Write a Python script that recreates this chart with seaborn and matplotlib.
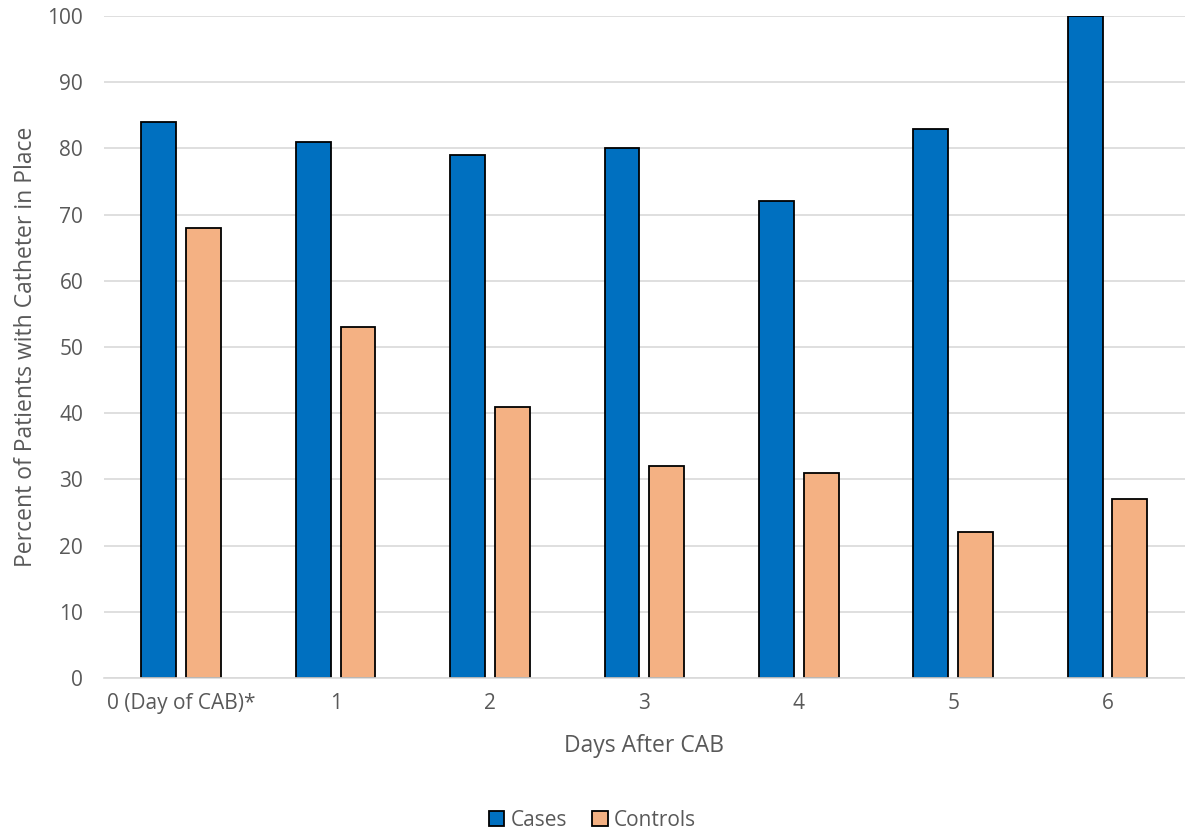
import matplotlib
matplotlib.use("Agg")
import matplotlib.pyplot as plt
import pandas as pd
import seaborn as sns
from matplotlib.patches import Patch

days = ["0 (Day of CAB)*", "1", "2", "3", "4", "5", "6"]
cases = [84, 81, 79, 80, 72, 83, 100]
controls = [68, 53, 41, 32, 31, 22, 27]
groups = ["Cases", "Controls"]
colors = ["#0070c0", "#f4b183"]

df = pd.DataFrame({
    "day": days * 2,
    "group": ["Cases"] * len(days) + ["Controls"] * len(days),
    "pct": cases + controls,
})

sns.set_style("white")
plt.rcParams["font.family"] = ["Open Sans", "DejaVu Sans"]
gray = "#595959"

fig = plt.figure(figsize=(11.85, 8.32), dpi=100)
ax = fig.add_axes([0.0878, 0.185, 0.912, 0.7957])

sns.barplot(
    data=df, x="day", y="pct", hue="group", order=days, hue_order=groups,
    palette=colors, width=0.58, gap=0.22, edgecolor="black", linewidth=1.3,
    saturation=1, legend=False, ax=ax,
)

ax.set_ylim(0, 100)
ax.set_yticks(range(0, 101, 10))
ax.yaxis.grid(True, color="#d9d9d9", linewidth=1.2)
ax.set_axisbelow(True)
for s in ["top", "right", "left"]:
    ax.spines[s].set_visible(False)
ax.spines["bottom"].set_color("#d9d9d9")
ax.spines["bottom"].set_linewidth(1.2)
ax.tick_params(axis="both", length=0, labelsize=15, labelcolor=gray)
ax.tick_params(axis="y", pad=15)
ax.tick_params(axis="x", pad=11)
ax.set_xlabel("Days After CAB", fontsize=16.5, color=gray, labelpad=14)
ax.set_ylabel("Percent of Patients with Catheter in Place", fontsize=16.5,
              color=gray, labelpad=7)

handles = [Patch(facecolor=c, edgecolor="black", linewidth=1.3) for c in colors]
fig.legend(handles, groups, loc="center", bbox_to_anchor=(0.5, 0.014),
           ncol=2, frameon=False, fontsize=15, labelcolor=gray,
           handlelength=0.75, handleheight=0.75, handletextpad=0.3,
           columnspacing=1.2)

fig.savefig("out.png", dpi=100)
